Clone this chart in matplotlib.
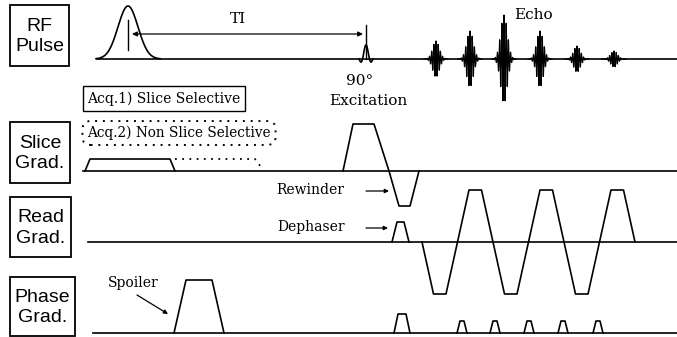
import numpy as np
import matplotlib.pyplot as plt
from matplotlib.patches import Rectangle

W, H = 677, 337

# baseline of every row (pixel y, top = 0)
rf_y, slice_y, read_y, phase_y = 59, 171, 242, 333
row_labels = ["RF\nPulse", "Slice\nGrad.", "Read\nGrad.", "Phase\nGrad."]
row_boxes = [(10, 5, 59, 61), (10, 122, 60, 61), (10, 197, 61, 60), (10, 277, 65, 59)]
row_base = [rf_y, slice_y, read_y, phase_y]
row_start = [97, 83, 88, 93]

# RF pulses and echoes
inv_center, inv_height, inv_sigma = 128, 53, 10
exc_center, exc_height, exc_line = 366, 14, 34
echo_x = [436, 470, 504, 540, 577, 614]
echo_amp = [18, 28, 44, 28, 13, 8]

# gradient lobes: (start, ramp, flat, amplitude), amplitude up = positive
slice_lobes = [(343, 10, 21, 47), (389, 10, 11, -35)]
slice_ramp_down = [15, 9]
inv_lobe = (85, 5, 80, 12)
read_dephase = (392, 5, 7, 20)
read_start = [422, 457.5, 493, 528.5, 564, 599.5]
read_amp = [-52, 52, -52, 52, -52, 52]
read_ramp, read_flat = 11.5, 12.5
phase_pre = (394, 4, 8, 19)
spoiler = (174, 12, 26, 53)
blip_x = [462, 495, 529, 563, 598]
blip_amp = 12


def trap(start, ramp, flat, amp, ramp2=None):
    ramp2 = ramp if ramp2 is None else ramp2
    xs = [start, start + ramp, start + ramp + flat, start + ramp + flat + ramp2]
    return xs, [0, amp, amp, 0]


fig = plt.figure(figsize=(W / 100, H / 100), dpi=100)
ax = fig.add_axes([0, 0, 1, 1])
ax.set_xlim(0, W)
ax.set_ylim(H, 0)
ax.axis("off")

lw = 1.2
serif = "DejaVu Serif"

# row labels and baselines
for lab, (bx, by, bw, bh), y0, x0 in zip(row_labels, row_boxes, row_base, row_start):
    ax.add_patch(Rectangle((bx, by), bw, bh, fill=False, lw=1.3, color="k"))
    ax.text(bx + bw / 2, by + bh / 2 + 1, lab, ha="center", va="center",
            fontsize=14, family="Liberation Sans", linespacing=1.25)
    ax.plot([x0, W], [y0, y0], color="k", lw=lw)

# RF: inversion pulse
t = np.linspace(inv_center - 32, inv_center + 32, 200)
ax.plot(t, rf_y - inv_height * np.exp(-(t - inv_center) ** 2 / (2 * inv_sigma ** 2)),
        color="k", lw=lw)
ax.plot([inv_center, inv_center], [20, 50], color="k", lw=1)

# RF: 90 deg excitation
t = np.linspace(-7, 7, 100)
ax.plot(exc_center + t, rf_y - exc_height * np.sinc(t / 3.5), color="k", lw=lw)
ax.plot([exc_center, exc_center], [rf_y, rf_y - exc_line], color="k", lw=1)

# RF: echoes
for cx, a in zip(echo_x, echo_amp):
    t = np.linspace(-12, 12, 500)
    y = a * np.exp(-t ** 2 / (2 * 3.4 ** 2)) * np.cos(2 * np.pi * t / 2.2)
    ax.plot(cx + t, rf_y - y, color="k", lw=0.9)

# TI arrow
ax.annotate("", xy=(132, 34), xytext=(363, 34),
            arrowprops=dict(arrowstyle="<|-|>", color="k", lw=0.9,
                            mutation_scale=7, shrinkA=0, shrinkB=0))
ax.text(238, 19, "TI", ha="center", va="center", fontsize=11, family=serif)
ax.text(533, 15, "Echo", ha="center", va="center", fontsize=11, family=serif)
ax.text(360, 81, "90°", ha="center", va="center", fontsize=11, family=serif)
ax.text(368, 101, "Excitation", ha="center", va="center", fontsize=11, family=serif)

# Slice gradient
xs, ys = trap(*inv_lobe)
ax.plot(xs, [slice_y - v for v in ys], color="k", lw=lw)
ax.plot([inv_lobe[0] + inv_lobe[1] + inv_lobe[2] + 5, 255, 261],
        [slice_y - inv_lobe[3], slice_y - inv_lobe[3], slice_y - 4],
        color="k", lw=1.3, ls=(0, (1, 3)))
xs_all, ys_all = [], []
for (s, r, f, a), r2 in zip(slice_lobes, slice_ramp_down):
    xs, ys = trap(s, r, f, a, r2)
    xs_all += xs
    ys_all += ys
ax.plot(xs_all, [slice_y - v for v in ys_all], color="k", lw=lw)

ax.text(164, 98.5, "Acq.1) Slice Selective", ha="center", va="center",
        fontsize=10, family=serif,
        bbox=dict(boxstyle="square,pad=0.35", fc="w", ec="k", lw=1))
ax.text(179, 133, "Acq.2) Non Slice Selective", ha="center", va="center",
        fontsize=9.8, family=serif,
        bbox=dict(boxstyle="round,pad=0.35,rounding_size=0.6", fc="w", ec="k",
                  lw=1.4, ls=(0, (1, 3))))

# Read gradient
xs, ys = trap(*read_dephase)
ax.plot(xs, [read_y - v for v in ys], color="k", lw=lw)
xs_all, ys_all = [], []
for s, a in zip(read_start, read_amp):
    xs, ys = trap(s, read_ramp, read_flat, a)
    xs_all += xs
    ys_all += ys
ax.plot(xs_all, [read_y - v for v in ys_all], color="k", lw=lw)

ax.annotate("", xy=(389, 191), xytext=(366, 191),
            arrowprops=dict(arrowstyle="-|>", color="k", lw=0.9,
                            mutation_scale=6, shrinkA=0, shrinkB=0))
ax.text(344, 190, "Rewinder", ha="right", va="center", fontsize=10, family=serif)
ax.annotate("", xy=(388, 228), xytext=(366, 228),
            arrowprops=dict(arrowstyle="-|>", color="k", lw=0.9,
                            mutation_scale=6, shrinkA=0, shrinkB=0))
ax.text(345, 227, "Dephaser", ha="right", va="center", fontsize=10, family=serif)

# Phase gradient
for lobe in (spoiler, phase_pre):
    xs, ys = trap(*lobe)
    ax.plot(xs, [phase_y - v for v in ys], color="k", lw=lw)
for cx in blip_x:
    xs, ys = trap(cx - 5, 3, 4, blip_amp)
    ax.plot(xs, [phase_y - v for v in ys], color="k", lw=lw)

ax.annotate("", xy=(168, 314), xytext=(137, 295),
            arrowprops=dict(arrowstyle="-|>", color="k", lw=0.9,
                            mutation_scale=6, shrinkA=0, shrinkB=0))
ax.text(133, 283, "Spoiler", ha="center", va="center", fontsize=10, family=serif)

fig.savefig("out.png", dpi=100, facecolor="w")
